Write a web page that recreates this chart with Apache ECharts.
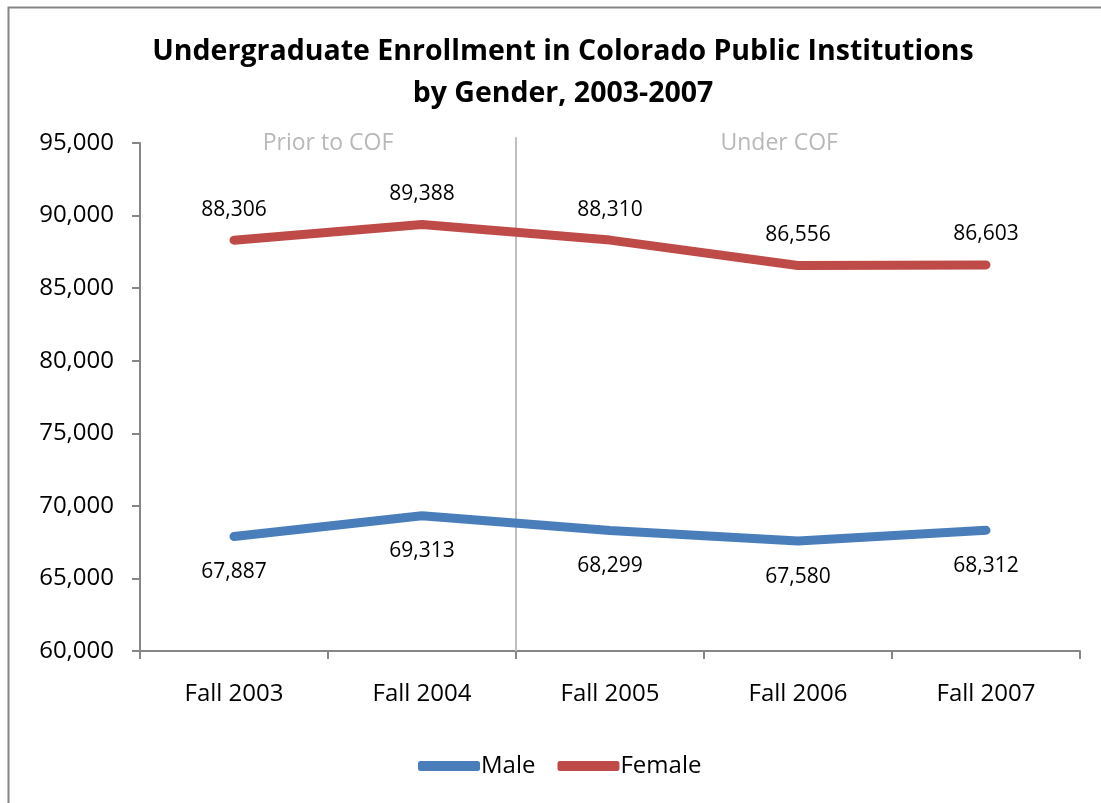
<!DOCTYPE html>
<html>
<head>
<meta charset="utf-8">
<script src="https://cdn.jsdelivr.net/npm/echarts@6/dist/echarts.min.js"></script>
<style>
html,body{margin:0;padding:0;background:#fff;}
#main{width:1101px;height:803px;}
</style>
</head>
<body>
<div id="main"></div>
<script>
var categories = ['Fall 2003', 'Fall 2004', 'Fall 2005', 'Fall 2006', 'Fall 2007'];
var male = [67887, 69313, 68299, 67580, 68312];
var female = [88306, 89388, 88310, 86556, 86603];
var periodLabels = ['Prior to COF', 'Under COF'];
var periodLabelX = [1.0, 3.4];
var dividerX = 2;
var yTicks = { min: 60000, max: 95000, interval: 5000 };

var FONT = '"Open Sans", "Liberation Sans", sans-serif';
var chart = echarts.init(document.getElementById('main'), null, { renderer: 'canvas' });

function fmt(v) { return v.toLocaleString('en-US'); }

var option = {
  backgroundColor: '#ffffff',
  animation: false,
  title: {
    text: 'Undergraduate Enrollment in Colorado Public Institutions\nby Gender, 2003-2007',
    left: 558,
    textAlign: 'center',
    top: 26,
    textStyle: { fontFamily: FONT, fontWeight: 'bold', fontSize: 28.5, color: '#000', lineHeight: 42 }
  },
  graphic: [{
    type: 'rect', left: 6, top: 5, silent: true,
    shape: { width: 1200, height: 900 },
    style: { fill: 'none', stroke: '#868686', lineWidth: 2 }
  }],
  legend: {
    bottom: 20,
    left: 413,
    itemWidth: 62,
    itemHeight: 10,
    itemGap: 22,
    icon: 'roundRect',
    data: ['Male', 'Female'],
    textStyle: { fontFamily: FONT, fontSize: 24, color: '#000', padding: [0, 0, 0, -4] }
  },
  grid: { left: 140, right: 21, top: 143, bottom: 152, containLabel: false },
  xAxis: [{
    type: 'category',
    data: categories,
    boundaryGap: true,
    axisLine: { lineStyle: { color: '#868686', width: 2 } },
    axisTick: { show: true, length: 8, interval: 0, lineStyle: { color: '#868686', width: 2 } },
    axisLabel: { fontFamily: FONT, fontSize: 24, color: '#000', margin: 31 }
  }, {
    type: 'value', min: 0, max: 5, show: false
  }],
  yAxis: {
    type: 'value',
    min: yTicks.min, max: yTicks.max, interval: yTicks.interval,
    axisLine: { show: true, lineStyle: { color: '#868686', width: 2 } },
    axisTick: { show: true, length: 8, lineStyle: { color: '#868686', width: 2 } },
    splitLine: { show: false },
    axisLabel: { fontFamily: FONT, fontSize: 24, color: '#000', margin: 26, formatter: function (v) { return fmt(v); } }
  },
  series: [{
    name: 'divider',
    type: 'line',
    xAxisIndex: 1,
    data: [[dividerX, yTicks.min], [dividerX, yTicks.max + 400]],
    clip: false,
    symbol: 'none',
    silent: true,
    lineStyle: { color: '#bfbfbf', width: 2 },
    z: 1
  }, {
    name: 'periods',
    type: 'scatter',
    xAxisIndex: 1,
    symbolSize: 0,
    clip: false,
    silent: true,
    data: periodLabels.map(function (t, i) { return { value: [periodLabelX[i], yTicks.max], name: t }; }),
    label: {
      show: true, position: 'inside', formatter: function (p) { return p.name; },
      fontFamily: FONT, fontSize: 23, color: '#a6a6a6'
    }
  }, {
    name: 'Male',
    type: 'line',
    data: male,
    symbol: 'circle',
    symbolSize: 0.1,
    showSymbol: true,
    color: '#4a7ebb',
    lineStyle: { color: '#4a7ebb', width: 9, cap: 'round', join: 'round' },
    label: { show: true, position: 'bottom', distance: 25, fontFamily: FONT, fontSize: 21, color: '#000', formatter: function (p) { return fmt(p.value); } },
    z: 3
  }, {
    name: 'Female',
    type: 'line',
    data: female,
    symbol: 'circle',
    symbolSize: 0.1,
    showSymbol: true,
    color: '#be4b48',
    lineStyle: { color: '#be4b48', width: 9, cap: 'round', join: 'round' },
    label: { show: true, position: 'top', distance: 20, fontFamily: FONT, fontSize: 21, color: '#000', formatter: function (p) { return fmt(p.value); } },
    z: 3
  }]
};
chart.setOption(option);
</script>
</body>
</html>
